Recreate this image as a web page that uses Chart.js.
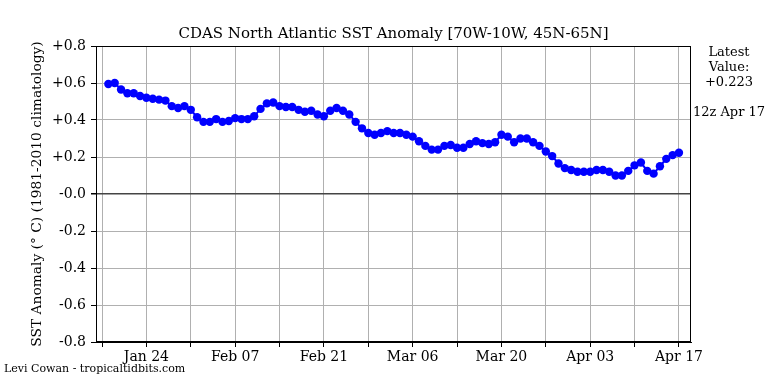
<!DOCTYPE html>
<html>
<head>
<meta charset="utf-8">
<script src="https://cdn.jsdelivr.net/npm/chart.js@4/dist/chart.umd.min.js"></script>
<style>
  body { margin: 0; background: #fff; }
  #wrap { position: relative; width: 768px; height: 384px; font-family: "DejaVu Serif", serif; color: #000; }
  #titulo { position: absolute; left: 0; width: 787px; top: 24px; text-align: center; font-size: 15px; }
  #lado { position: absolute; left: 690px; width: 78px; top: 44px; text-align: center; font-size: 13px; line-height: 15px; }
  #rodape { position: absolute; left: 4px; top: 362px; font-size: 11px; }
</style>
</head>
<body>
<div id="wrap">
  <canvas id="sstChart" width="768" height="384"></canvas>
  <div id="titulo">CDAS North Atlantic SST Anomaly [70W-10W, 45N-65N]</div>
  <div id="lado">Latest<br>Value:<br>+0.223<br><br>12z Apr 17</div>
  <div id="rodape">Levi Cowan - tropicaltidbits.com</div>
</div>
<script>
// dias: 18 jan a 17 abr (ano bissexto)
const primeiroDia = "2016-01-18";
const anomalias = [
  0.595, 0.600, 0.565, 0.545, 0.545, 0.530, 0.520, 0.515, 0.510, 0.505,
  0.475, 0.465, 0.475, 0.455, 0.415, 0.390, 0.390, 0.405, 0.390, 0.395,
  0.410, 0.405, 0.405, 0.420, 0.460, 0.490, 0.495, 0.475, 0.470, 0.470,
  0.455, 0.445, 0.450, 0.430, 0.420, 0.450, 0.465, 0.450, 0.430, 0.390,
  0.355, 0.330, 0.320, 0.330, 0.340, 0.330, 0.330, 0.320, 0.310, 0.285,
  0.260, 0.240, 0.240, 0.260, 0.265, 0.250, 0.250, 0.270, 0.285, 0.275,
  0.270, 0.280, 0.320, 0.310, 0.280, 0.300, 0.300, 0.280, 0.260, 0.230,
  0.205, 0.165, 0.140, 0.130, 0.120, 0.120, 0.120, 0.130, 0.130, 0.120,
  0.100, 0.100, 0.125, 0.155, 0.170, 0.125, 0.110, 0.150, 0.190, 0.210,
  0.223
];
const rotulosX = ["Jan 24", "Feb 07", "Feb 21", "Mar 06", "Mar 20", "Apr 03", "Apr 17"];

const meses = ["Jan", "Feb", "Mar", "Apr", "May", "Jun", "Jul", "Aug", "Sep", "Oct", "Nov", "Dec"];
function nomeDia(i) {
  const d = new Date(primeiroDia + "T12:00:00Z");
  d.setUTCDate(d.getUTCDate() + i);
  return meses[d.getUTCMonth()] + " " + String(d.getUTCDate()).padStart(2, "0");
}
const datas = anomalias.map((_, i) => nomeDia(i));
const pontos = anomalias.map((v, i) => ({ x: i, y: v }));

// posicoes dos rotulos e ticks menores (meio do caminho, a cada 7 dias)
const posRotulos = rotulosX.map(r => datas.indexOf(r));
const posTicks = [];
posRotulos.forEach(p => { posTicks.push(p - 7, p); });

const moldura = {
  id: "moldura",
  afterDraw(chart) {
    const { ctx, chartArea: a } = chart;
    ctx.save();
    ctx.strokeStyle = "#000";
    ctx.lineWidth = 1;
    ctx.strokeRect(a.left + 0.5, a.top + 0.5, a.right - a.left - 1, a.bottom - a.top - 1);
    ctx.restore();
  }
};

new Chart(document.getElementById("sstChart").getContext("2d"), {
  type: "line",
  data: {
    datasets: [{
      data: pontos,
      borderColor: "#0000ff",
      backgroundColor: "#0000ff",
      borderWidth: 2,
      pointRadius: 4.2,
      pointBorderWidth: 0,
      tension: 0
    }]
  },
  options: {
    responsive: false,
    animation: false,
    layout: { padding: { top: 46, right: 77, left: 0, bottom: 0 } },
    plugins: { legend: { display: false }, tooltip: { enabled: false } },
    scales: {
      x: {
        type: "linear",
        min: -1.95,
        max: 91.9,
        afterFit(s) { s.height = 42; },
        afterBuildTicks(s) { s.ticks = posTicks.map(v => ({ value: v })); },
        ticks: {
          autoSkip: false,
          maxRotation: 0,
          padding: 2,
          color: "#000",
          font: { family: "DejaVu Serif", size: 14 },
          callback: v => (posRotulos.includes(v) ? datas[v] : "")
        },
        grid: { color: "#b0b0b0", lineWidth: 1, tickLength: 5, tickColor: "#000" },
        border: { color: "#000" }
      },
      y: {
        min: -0.8,
        max: 0.8,
        afterFit(s) { s.width = 96; },
        ticks: {
          stepSize: 0.2,
          padding: 5,
          color: "#000",
          font: { family: "DejaVu Serif", size: 14 },
          callback: v => {
            if (Math.abs(v) < 1e-9) return "-0.0";
            return (v > 0 ? "+" : "") + v.toFixed(1);
          }
        },
        grid: {
          color: c => (Math.abs(c.tick.value) < 1e-9 ? "#444" : "#b0b0b0"),
          lineWidth: c => (Math.abs(c.tick.value) < 1e-9 ? 1.5 : 1),
          tickLength: 5,
          tickColor: "#000"
        },
        border: { color: "#000" },
        title: {
          display: true,
          text: "SST Anomaly (\u00B0 C) (1981-2010 climatology)",
          color: "#000",
          font: { family: "DejaVu Serif", size: 13.8 },
          padding: { top: 29, bottom: 0 }
        }
      }
    }
  },
  plugins: [moldura]
});
</script>
</body>
</html>
